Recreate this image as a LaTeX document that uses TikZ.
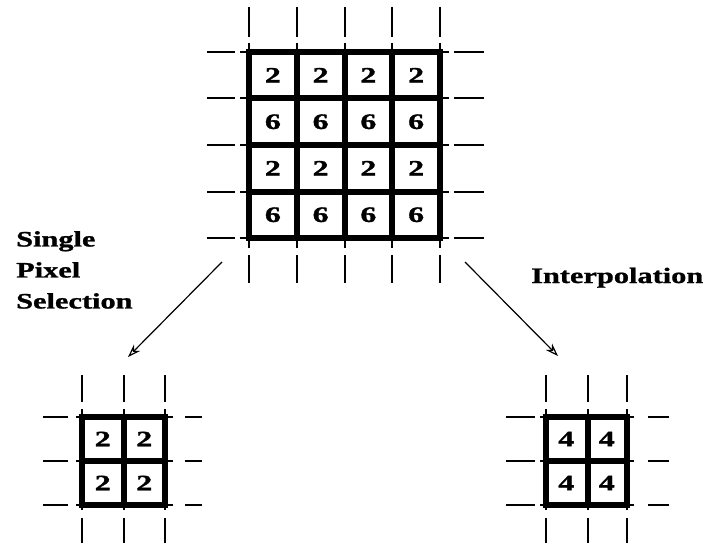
\documentclass[tikz,border=0pt]{standalone}
\usepackage{fontspec}
\newfontfamily\pixfont[FakeStretch=1.38,BoldFeatures={FakeBold=1.2}]{Liberation Serif}
\newfontfamily\numfont[FakeStretch=1.45,BoldFeatures={FakeBold=1.5}]{Liberation Serif}
\usetikzlibrary{arrows.meta}

\tikzset{
  thickline/.style={line width=5.5pt,line cap=rect},
  tick/.style={line width=2pt},
  cellnum/.style={font=\numfont\bfseries\fontsize{22}{22}\selectfont,inner sep=0pt},
  lbl/.style={font=\pixfont\bfseries\fontsize{22}{31}\selectfont,inner sep=0pt,align=left},
  arr/.style={line width=1.2pt,-{Stealth[open,length=13pt,width=9pt]}}
}

\begin{document}
\begin{tikzpicture}[x=1pt,y=-1pt]
  \useasboundingbox (0,0) rectangle (706,545);
  %\draw[thin,gray!40] (0,0) grid[step=50] (706,545);

  % big grid
  \foreach \x in {249,297,345,392,440}
    \draw[tick] (\x,7)--(\x,37) (\x,43)--(\x,248) (\x,255)--(\x,283);
  \foreach \y in {52,98,145,192,238}
    \draw[tick] (207,\y)--(235,\y) (240,\y)--(449,\y) (454,\y)--(484,\y);
  \foreach \x in {249,297,345,392,440}
    \draw[thickline] (\x,52)--(\x,238);
  \foreach \y in {52,98,145,192,238}
    \draw[thickline] (249,\y)--(440,\y);
  \foreach \v [count=\r] in {2,6,2,6}
    \foreach \c in {1,...,4}
      \node[cellnum] (big-\r-\c) at ({249+47.75*(\c-0.5)},{52+46.5*(\r-0.5)}) {\v};

  % small grid, left
  \foreach \x in {82,124,165}
    \draw[tick] (\x,375)--(\x,402) (\x,409)--(\x,510) (\x,518)--(\x,543);
  \foreach \y in {417,461,505}
    \draw[tick] (43,\y)--(68,\y) (76,\y)--(173,\y) (185,\y)--(202,\y);
  \foreach \x in {82,124,165}
    \draw[thickline] (\x,417)--(\x,505);
  \foreach \y in {417,461,505}
    \draw[thickline] (82,\y)--(165,\y);
  \foreach \r in {1,2}
    \foreach \c in {1,2}
      \node[cellnum] (sel-\r-\c) at ({82+41.5*(\c-0.5)},{417+44*(\r-0.5)}) {2};

  % small grid, right
  \foreach \x in {546,588,627}
    \draw[tick] (\x,375)--(\x,402) (\x,409)--(\x,510) (\x,518)--(\x,543);
  \foreach \y in {417,461,505}
    \draw[tick] (506,\y)--(535,\y) (540,\y)--(634,\y) (648,\y)--(669,\y);
  \foreach \x in {546,588,627}
    \draw[thickline] (\x,417)--(\x,505);
  \foreach \y in {417,461,505}
    \draw[thickline] (546,\y)--(627,\y);
  \foreach \r in {1,2}
    \foreach \c in {1,2}
      \node[cellnum] (int-\r-\c) at ({546+40.5*(\c-0.5)},{417+44*(\r-0.5)}) {4};

  \node[lbl,anchor=north west] (selLabel) at (16,231) {Single\\Pixel\\Selection};
  \node[lbl,anchor=base west] (intLabel) at (531,283) {Interpolation};

  \coordinate (selFrom) at (222,262);
  \coordinate (selTo) at (128,357);
  \coordinate (intFrom) at (465,262);
  \coordinate (intTo) at (558,356);
  \draw[arr] (selFrom)--(selTo);
  \draw[arr] (intFrom)--(intTo);
\end{tikzpicture}
\end{document}
